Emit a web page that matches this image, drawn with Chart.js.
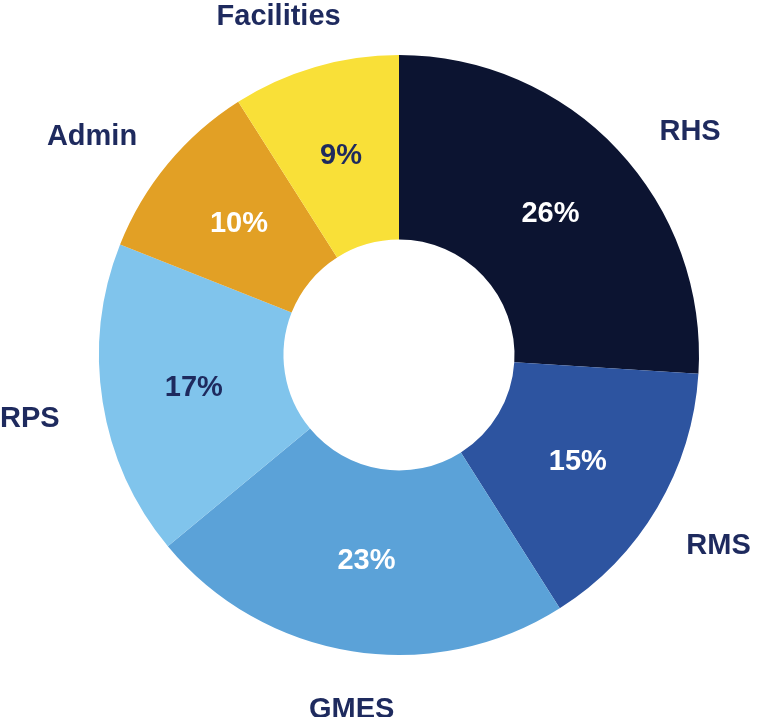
<!DOCTYPE html>
<html>
<head>
<meta charset="utf-8">
<script src="https://cdn.jsdelivr.net/npm/chart.js@4.4.0/dist/chart.umd.min.js"></script>
<style>
  html, body { margin: 0; padding: 0; background: #ffffff; }
  #wrap { width: 758px; height: 717px; }
</style>
</head>
<body>
<div id="wrap"><canvas id="pie" width="758" height="717"></canvas></div>
<script>
// chart data
const labels = ['RHS', 'RMS', 'GMES', 'RPS', 'Admin', 'Facilities'];
const shares = [26, 15, 23, 17, 10, 9];
const colors = ['#0c1431', '#2d54a0', '#5ba2d8', '#80c4ec', '#e2a025', '#f9e038'];
const pctColors = ['#ffffff', '#ffffff', '#ffffff', '#1e2a5e', '#ffffff', '#1e2a5e'];

const navy = '#1e2a5e';
const font = 'bold 29px "Liberation Sans", Arial, sans-serif';
// small angle tweaks (degrees) for the outer names, as placed in the original
const nameTurn = [4, 1.5, -2, -1, -1.5, -1];

// draws percentages inside and names outside each slice
const sliceLabels = {
  id: 'sliceLabels',
  afterDatasetsDraw(chart) {
    const ctx = chart.ctx;
    const meta = chart.getDatasetMeta(0);
    ctx.save();
    ctx.font = font;
    ctx.textAlign = 'center';
    ctx.textBaseline = 'middle';
    meta.data.forEach((arc, i) => {
      const mid = (arc.startAngle + arc.endAngle) / 2;
      const rIn = (arc.innerRadius + arc.outerRadius) / 2;
      ctx.fillStyle = pctColors[i];
      ctx.fillText(shares[i] + '%', arc.x + Math.cos(mid) * rIn, arc.y + Math.sin(mid) * rIn + 1);
      // push the name box out so its edge sits a fixed gap from the ring
      const a = mid + nameTurn[i] * Math.PI / 180;
      const c = Math.cos(a), s = Math.sin(a);
      const w = ctx.measureText(labels[i]).width;
      const rOut = arc.outerRadius + 45;
      ctx.fillStyle = navy;
      ctx.fillText(labels[i], arc.x + c * (rOut + w / 2), arc.y + s * (rOut + 11) + 2);
    });
    ctx.restore();
  }
};

new Chart(document.getElementById('pie'), {
  type: 'doughnut',
  data: {
    labels: labels,
    datasets: [{
      data: shares,
      backgroundColor: colors,
      borderWidth: 0
    }]
  },
  options: {
    responsive: false,
    animation: false,
    cutout: '38.5%',
    layout: { padding: { top: 55, bottom: 62, left: 99, right: 59 } },
    plugins: {
      legend: { display: false },
      tooltip: { enabled: false }
    }
  },
  plugins: [sliceLabels]
});
</script>
</body>
</html>
